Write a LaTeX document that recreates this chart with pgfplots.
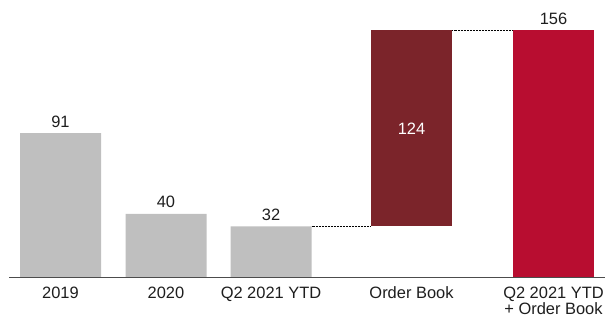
\documentclass[border=0pt]{standalone}
\usepackage{pgfplots}
\usepackage{pgfplotstable}
\pgfplotsset{compat=1.18}
\usepackage{fontspec}
\setmainfont{Liberation Sans}
\definecolor{bargray}{HTML}{BFBFBF}
\definecolor{obred}{HTML}{7B242A}
\definecolor{totred}{HTML}{B80D30}
\definecolor{txt}{HTML}{1E1E1E}
\pgfplotstableread{
x g base ob tot
60.5 91 0 0 0
166 40 0 0 0
271 32 0 0 0
411.5 0 32 124 0
553.5 0 0 0 156
}\data
\begin{document}
\begin{tikzpicture}
\begin{axis}[
  scale only axis,
  width=605bp, height=277bp,
  xmin=0, xmax=605, ymin=0, ymax=175.3,
  axis line style={draw=none},
  ytick=\empty,
  xtick={60.5,166,271,411.5,553.5},
  xticklabels={2019,2020,Q2 2021 YTD,Order Book,{Q2 2021 YTD\\[-1.5bp]+ Order Book}},
  typeset ticklabels with strut,
  xticklabel style={align=center, anchor=north, inner sep=0pt, yshift=-9.5bp,
    font=\fontsize{16.5}{17.5}\selectfont, text=txt},
  major tick length=0pt,
  clip=false,
  ybar stacked,
  bar width=81,
]
\addplot[fill=bargray, draw=none] table[x=x,y=g] {\data};
\addplot[fill=none, draw=none] table[x=x,y=base] {\data};
\addplot[fill=obred, draw=none] table[x=x,y=ob] {\data};
\addplot[fill=totred, draw=none] table[x=x,y=tot] {\data};
\end{axis}
\begin{axis}[
  scale only axis,
  width=605bp, height=277bp,
  xmin=0, xmax=605, ymin=0, ymax=175.3,
  hide axis, clip=false,
]
\addplot[densely dotted, black, line width=0.5pt] coordinates {(311.5,32) (371,32)};
\addplot[densely dotted, black, line width=0.5pt] coordinates {(452,156) (513,156)};
\addplot[color=black!70, line width=0.8pt] coordinates {(9,0) (605,0)};
\tikzset{vl/.style={anchor=base, font=\fontsize{16.5}{17.5}\selectfont, text=txt, inner sep=0pt, yshift=6bp}}
\node[vl] at (axis cs:60.5,91) {91};
\node[vl] at (axis cs:166,40) {40};
\node[vl] at (axis cs:271,32) {32};
\node[font=\fontsize{16.5}{17.5}\selectfont, text=white] at (axis cs:411.5,94) {124};
\node[vl] at (axis cs:553.5,156) {156};
\end{axis}
\pgfresetboundingbox
\path (current axis.south west) ++(0,-41bp) rectangle (current axis.north east);
\end{tikzpicture}
\end{document}
